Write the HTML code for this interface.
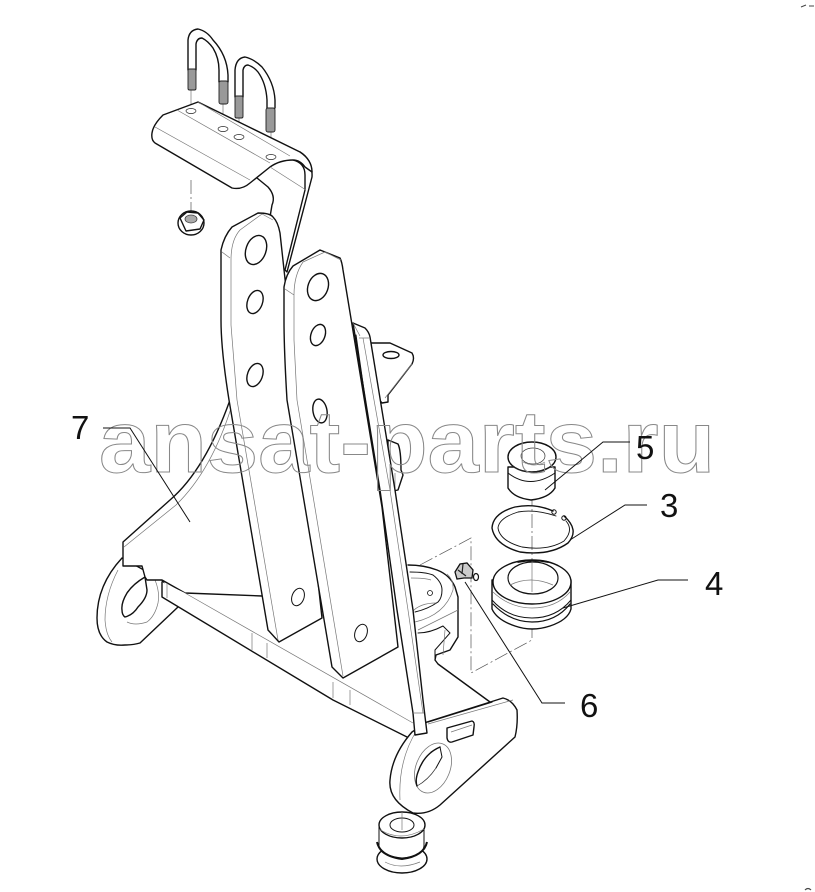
<!DOCTYPE html>
<html><head><meta charset="utf-8"><style>
html,body{margin:0;padding:0;background:#fff;width:815px;height:892px;overflow:hidden}
svg{display:block}
.k{fill:none;stroke:#111;stroke-width:1.4;stroke-linejoin:round;stroke-linecap:round}
.w{fill:#fff;stroke:#111;stroke-width:1.4;stroke-linejoin:round}
.f{fill:#fff;stroke:none}
.g{fill:none;stroke:#777;stroke-width:.7}
.l{fill:none;stroke:#111;stroke-width:1}
.d{fill:none;stroke:#555;stroke-width:.7;stroke-dasharray:14 3 2 3}
.t{fill:#999;stroke:#222;stroke-width:.9}
.n{font-family:"Liberation Sans",sans-serif;font-size:33px;fill:#111}
</style></head><body>
<svg width="815" height="892" viewBox="0 0 815 892" xmlns="http://www.w3.org/2000/svg">
<rect width="815" height="892" fill="#fff"/>

<!-- dash-dot construction lines -->
<path class="d" d="M420,565L471,538V673L532,640V500"/>
<path class="d" d="M191,180V215"/>
<path class="g" d="M191,90V111M223,104V129M239,118V137M271,132V157M402,812V838"/>

<!-- rear strap going down -->
<path class="w" d="M293,160Q305,163 305,175L305,190L285,270L287,272L312,177Q313,160 300,152Z"/>
<path class="k" d="M257,178L268,187Q276,196 272,205L270,217"/>

<!-- top plate -->
<path class="w" d="M152,133Q153,125 163,115L198,102L300,152Q312,160 312,172L305,167Q300,160 293,160Q280,160 270,167L250,183Q242,190 232,188L155,143Q151,140 152,133Z"/>
<path class="g" d="M155,127L250,180M177,110L270,163M198,102L290,156M270,167L306,190"/>
<ellipse class="g" cx="191" cy="111" rx="5" ry="2.5" style="stroke:#222"/>
<ellipse class="g" cx="223" cy="129" rx="5" ry="2.5" style="stroke:#222"/>
<ellipse class="g" cx="239" cy="137" rx="5" ry="2.5" style="stroke:#222"/>
<ellipse class="g" cx="271" cy="157" rx="5" ry="2.5" style="stroke:#222"/>

<!-- U-bolts -->
<path class="k" d="M188,70V40Q189,30 198,29Q207,31 213,40Q227,55 228,75V82M196,70V44Q197,38 202,38Q208,41 213,48Q219,58 219,70V82"/>
<rect class="t" x="188" y="69" width="8" height="21" rx="1.5"/>
<rect class="t" x="219" y="81" width="9" height="23" rx="2"/>
<path class="k" d="M235,97V70Q236,58 245,57Q254,59 262,67Q274,82 275,100V108M243,97V70Q244,65 248,65Q254,67 258,72Q266,83 267,100V108"/>
<rect class="t" x="235" y="96" width="8" height="22" rx="1.5"/>
<rect class="t" x="266" y="108" width="9" height="24" rx="2"/>

<!-- nut -->
<ellipse class="w" cx="191" cy="223" rx="13" ry="12"/>
<path class="k" d="M180,218L187,212L198,213L204,220L200,229L186,231Z" />
<ellipse cx="191" cy="219" rx="6" ry="4" fill="#aaa" stroke="#444" stroke-width=".8"/>

<!-- bracket behind side plate -->
<path class="w" d="M370,343H390L412,353Q415,358 412,364L388,395V402L382,403L375,395Z"/>
<path class="g" d="M385,398L412,364"/>
<ellipse class="k" cx="391" cy="355" rx="8" ry="3.5"/>
<path class="w" d="M388,440L398,444Q401,450 401,470L403,475L398,490L388,492Z"/>
<path class="g" d="M395,473V490"/>

<!-- left eye -->
<path class="w" d="M122,558Q97,585 97,618Q97,635 107,642Q115,646 125,645Q133,645 140,643L178,607L162,580Z"/>
<path class="g" d="M118,570Q105,595 105,620Q106,635 112,642"/>
<path class="w" d="M145,577Q133,584 127,593Q121,603 122,610Q122,615 125,617Q133,615 138,607Q147,598 147,590Z"/>
<path class="g" d="M155,580Q160,592 158,603Q155,616 147,622Q135,626 127,622"/>

<!-- gusset -->
<path class="f" d="M230,400Q205,470 170,500L123,542V566H142L145,577L147,580H162L185,593L280,597L240,420Z"/>
<path class="k" d="M230,400Q205,470 170,500L123,542V566H142L145,577L147,580H162L185,593L262,596"/>
<path class="g" d="M232,405Q212,470 176,505L124,547"/>

<!-- base plate -->
<path class="f" d="M162,582L185,593L413,723L425,735L407,737L333,700L162,597Z"/>
<path class="k" d="M162,582V597L333,700L407,737"/>
<path class="g" d="M185,593L413,723M252,633V650M267,643V658M333,682V698M350,690V705M167,583V598"/>

<!-- hub -->
<path class="w" d="M408,565Q424,565 437,570Q450,575 455,587L458,597V637L450,650L435,655V660L438,664L490,702L428,722L398,700L398,640Z" style="stroke:none"/>
<path class="k" d="M408,565Q424,565 437,570Q450,575 455,587L458,597V637L450,650L436,655L435,660L438,664L490,702"/>
<path class="k" style="stroke-width:1" d="M418,633Q430,633 443,626L450,633L435,650V660"/>
<path class="g" d="M411,578Q425,578 431,580M415,622Q445,615 453,590Q454,580 447,574M418,630L458,610M445,630L443,655"/>
<path class="k" style="stroke-width:1" d="M410,572Q425,572 433,575Q442,582 442,590Q442,598 438,602Q428,609 415,612"/>
<circle class="k" cx="430" cy="593" r="2.5" style="stroke-width:.8"/>
<path class="g" d="M412,612Q420,603 436,603"/>

<!-- lower eye -->
<path class="w" d="M412,732Q392,755 390,780Q388,800 413,813Q428,815 440,805L515,737Q518,725 517,710Q512,700 503,698L427,722Z"/>
<path class="g" d="M417,730Q398,760 400,800M428,724L513,700"/>
<path class="k" d="M428,722L492,702"/>
<ellipse cx="433" cy="768" rx="17" ry="26" transform="rotate(22 433 768)" fill="#fff" stroke="#777" stroke-width=".8"/>
<path class="k" d="M440,747Q424,754 418,772Q415,780 417,786" style="stroke-width:1.4"/>
<path class="k" d="M431,752L440,747L442,757L436,768" style="stroke-width:1"/>
<path class="g" d="M436,768Q428,780 417,786" style="stroke:#333"/>
<path class="w" d="M447,728L472,721Q475,722 474,727L473,735L452,742Q448,743 447,738Z"/>
<path class="g" d="M451,732L472,725"/>

<!-- side plate -->
<path class="f" d="M353,323L365,328Q369,332 370,337L395,490L413,610L423,700L427,733L415,735L413,713L397,610L380,490Z"/>
<path class="k" d="M353,323L380,490L397,610L413,713L415,735L427,733L423,700L413,610L395,490L370,337Q369,332 365,328L353,323"/>
<path class="g" d="M363,338L390,490L408,610L423,713M359,338H369M353,323L360,336M413,713H424"/>
<path class="k" style="stroke-width:1" d="M356,335L375,467"/>

<!-- arm A -->
<path class="w" d="M221,250Q224,236 232,227L258,213Q270,213 273,217Q278,222 280,233L322,618L279,642L268,630L229,400Q221,350 221,320Z"/>
<path class="g" d="M222,252L230,258M240,230Q231,240 231,260V325L237,400L278,640M240,230L262,214M262,214L273,220"/>
<ellipse class="k" cx="256" cy="250" rx="10" ry="15" transform="rotate(20 256 250)" />
<ellipse class="k" cx="255" cy="302" rx="7.5" ry="12" transform="rotate(20 255 302)"/>
<ellipse class="k" cx="255" cy="375" rx="7.5" ry="12" transform="rotate(20 255 375)"/>
<ellipse class="k" cx="298" cy="597" rx="6" ry="9" transform="rotate(20 298 597)" style="stroke-width:1"/>

<!-- arm B -->
<path class="w" d="M284,287Q286,274 293,266L320,250L340,258Q342,262 343,270L382,507L398,647L343,678L332,667L287,400Q284,350 284,320Z"/>
<path class="g" d="M285,289L294,295M303,262Q294,275 294,295V340L297,400L343,676M303,262L325,252M325,252L341,260"/>
<ellipse class="k" cx="318" cy="287" rx="10" ry="14" transform="rotate(20 318 287)"/>
<ellipse class="k" cx="318" cy="335" rx="7" ry="11" transform="rotate(20 318 335)"/>
<ellipse class="k" cx="320" cy="411" rx="7" ry="12" transform="rotate(-10 320 411)"/>
<ellipse class="k" cx="361" cy="633" rx="6" ry="9" transform="rotate(20 361 633)" style="stroke-width:1"/>

<!-- part 6 fitting -->
<path d="M455,572L460,564L467,563L473,570L472,578L464,578L457,579Z" fill="#ccc" stroke="#111" stroke-width="1.3"/>
<path d="M458,570L466,576M463,564L462,574" stroke="#222" stroke-width="1.2" fill="none"/>
<ellipse cx="476" cy="577" rx="2.5" ry="3.5" fill="#fff" stroke="#111" stroke-width="1.2"/>

<!-- part 5 -->
<path class="w" d="M508,467V488Q514,498 531,500Q549,498 555,488V467Z"/>
<path class="k" style="stroke-width:1" d="M508,473Q530,490 555,473"/>
<ellipse class="w" cx="532" cy="457" rx="24" ry="15"/>
<path class="g" d="M512,466Q530,478 552,466" style="stroke:#222;stroke-width:1"/>
<ellipse class="g" cx="533" cy="456" rx="12" ry="8" style="stroke:#333"/>
<path class="g" d="M523,462Q534,468 545,462"/>

<!-- part 3 circlip -->
<path class="k" d="M553,511Q535,503 515,507Q493,513 492,528Q495,545 520,552Q550,556 568,543Q580,530 564,516"/>
<path class="k" style="stroke-width:.9" d="M556,516Q535,509 518,512Q499,518 498,528Q500,541 522,547Q548,551 564,541Q574,530 566,521"/>
<circle class="k" cx="554" cy="512" r="2.2" style="stroke-width:1"/>
<circle class="k" cx="564" cy="518" r="2.2" style="stroke-width:1"/>

<!-- part 4 -->
<path class="w" d="M492,580V609Q497,620 515,626Q532,632 550,626Q568,620 571,609V580Z"/>
<ellipse class="w" cx="532" cy="582" rx="39" ry="22"/>
<path class="k" d="M492,600Q508,618 532,618Q556,618 571,600" style="stroke-width:1"/>
<path class="k" d="M493,604Q510,622 532,622Q556,622 570,604" style="stroke-width:1.2"/>
<path class="g" d="M493,592Q510,608 532,608Q556,608 570,592"/>
<ellipse class="w" cx="533" cy="578" rx="25" ry="16" style="stroke-width:1.2"/>
<path class="g" d="M510,585Q530,575 553,585M532,560V592"/>
<path class="k" d="M518,562Q533,559 548,562" style="stroke-width:1.8"/>

<!-- bottom bushing -->
<ellipse class="w" cx="402" cy="859" rx="25" ry="14"/>
<path class="g" d="M385,862Q400,870 420,862"/>
<path class="w" d="M379,825V846Q380,856 402,858Q423,856 424,846V825Z" style="stroke-width:1"/>
<path d="M377,842Q380,856 402,859Q424,856 427,842" fill="none" stroke="#111" stroke-width="2"/>
<ellipse class="w" cx="402" cy="825" rx="23" ry="13"/>
<path class="g" d="M379,829Q400,843 424,829"/>
<ellipse class="k" cx="402" cy="825" rx="12" ry="7" style="stroke-width:1"/>
<path class="g" d="M402,812V830"/>

<!-- watermark -->
<text x="99" y="472" textLength="616" lengthAdjust="spacingAndGlyphs" font-family="Liberation Sans, sans-serif" font-weight="bold" font-size="88" fill="none" stroke="#888" stroke-width="1">ansat-parts.ru</text>

<!-- leaders -->
<path class="l" d="M103,428H130L190,522"/>
<path class="l" d="M630,442H603L545,490"/>
<path class="l" d="M647,505H625L570,540"/>
<path class="l" d="M688,580H658L563,608"/>
<path class="l" d="M565,703H542L465,582"/>

<!-- labels -->
<text class="n" x="71" y="439">7</text>
<text class="n" x="636" y="459">5</text>
<text class="n" x="660" y="517">3</text>
<text class="n" x="705" y="595">4</text>
<text class="n" x="580" y="717">6</text>

<!-- corner specks -->
<path d="M801,7L806,5M809,6H814" stroke="#444" stroke-width="1"/>
<path d="M805,890Q808,887 811,890" stroke="#444" stroke-width="1.2" fill="none"/>
</svg>
</body></html>
